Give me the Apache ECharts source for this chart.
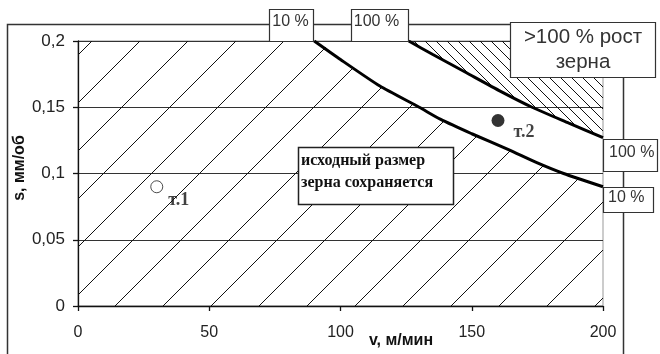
<!DOCTYPE html>
<html><head><meta charset="utf-8">
<script src="https://cdn.jsdelivr.net/npm/echarts@6/dist/echarts.min.js"></script>
<style>html,body{margin:0;padding:0;background:#fff}#chart{width:660px;height:354px}</style>
</head><body><div id="chart"></div>
<script>
// Boundary where grain growth reaches 10 %: [v, m/min ; s, mm/rev]
const curve10 = [[90,0.2],[100,0.186],[115,0.166],[130,0.15],[138,0.141],[150,0.13],[164,0.118],[175,0.108],[185,0.1],[200,0.09]];
// Boundary where grain growth reaches 100 %
const curve100 = [[126,0.2],[135,0.19],[148,0.176],[161,0.162],[173,0.15],[187,0.138],[200,0.127]];
// Test points
const point1 = [30, 0.09];
const point2 = [160, 0.14];
// Axis ticks
const xTicks = [0, 50, 100, 150, 200];
const yTicks = [0, 0.05, 0.1, 0.15, 0.2];

// Tile with diagonal hatch lines; '/' lines satisfy x+y=phase (mod size), '\' lines x-y=phase
function hatch(size, dir, phase, width) {
  const c = document.createElement('canvas');
  c.width = size; c.height = size;
  const g = c.getContext('2d');
  g.strokeStyle = '#111';
  g.lineWidth = width;
  g.beginPath();
  for (let k = -2; k <= 2; k++) {
    const o = phase + k * size;
    if (dir === '/') { g.moveTo(o + 1, -1); g.lineTo(o - size - 1, size + 1); }
    else { g.moveTo(o - 1, -1); g.lineTo(o + size + 1, size + 1); }
  }
  g.stroke();
  return c;
}
const slash = hatch(48, '/', 37, 1);
const backslash = hatch(11, '\\', 10, 1);

const chart = echarts.init(document.getElementById('chart'), null, {renderer: 'canvas'});
const sans = 'Liberation Sans, Arial, sans-serif';
const serif = 'Liberation Serif, Times New Roman, serif';

const option = {
  animation: false,
  backgroundColor: '#fff',
  grid: {left: 78, right: 57, top: 41, bottom: 48, show: true, borderColor: '#999', borderWidth: 1, backgroundColor: '#fff'},
  xAxis: {
    type: 'value', min: xTicks[0], max: xTicks[xTicks.length - 1], interval: xTicks[1] - xTicks[0],
    axisLine: {show: true, lineStyle: {color: '#111', width: 1.3}},
    axisTick: {show: true, length: 5, lineStyle: {color: '#111', width: 1.3}},
    axisLabel: {fontFamily: sans, fontSize: 16, color: '#222', margin: 19},
    splitLine: {show: false}
  },
  yAxis: {
    type: 'value', min: yTicks[0], max: yTicks[yTicks.length - 1], interval: yTicks[1] - yTicks[0],
    axisLine: {show: true, lineStyle: {color: '#111', width: 1.3}},
    axisTick: {show: true, length: 5, lineStyle: {color: '#111', width: 1.3}},
    axisLabel: {fontFamily: sans, fontSize: 17, color: '#222', margin: 13,
      formatter: v => String(+v.toFixed(2)).replace('.', ',')},
    splitLine: {show: true, lineStyle: {color: '#333', width: 1.2}}
  },
  series: [
    { // hatched zone below the 10 % boundary
      type: 'line', data: [[xTicks[0], yTicks[yTicks.length - 1]]].concat(curve10),
      showSymbol: false, silent: true, z: 1, smooth: 0.2,
      lineStyle: {width: 0, opacity: 0},
      areaStyle: {color: {image: slash, repeat: 'repeat'}, origin: 'start', opacity: 1}
    },
    { // >100 % zone above the 100 % boundary
      type: 'line', data: curve100, showSymbol: false, silent: true, z: 3, smooth: 0.2,
      lineStyle: {color: '#000', width: 3},
      areaStyle: {color: {image: backslash, repeat: 'repeat'}, origin: 'end', opacity: 1}
    },
    {
      type: 'line', data: curve10, showSymbol: false, silent: true, z: 3, smooth: 0.2,
      lineStyle: {color: '#000', width: 3}
    },
    {
      type: 'scatter', z: 5, symbolSize: 12,
      data: [
        {value: point1, itemStyle: {color: '#fff', borderColor: '#222', borderWidth: 1},
         label: {show: true, formatter: 'т.1', position: 'right', offset: [0, 14]}},
        {value: point2, symbolSize: 13, itemStyle: {color: '#000'},
         label: {show: true, formatter: 'т.2', position: 'right', offset: [4, 12]}}
      ],
      label: {fontFamily: serif, fontWeight: 'bold', fontSize: 18, color: '#111'}
    }
  ]
};
chart.setOption(option);

// Annotation boxes anchored at the ends of the boundary curves
const px = p => chart.convertToPixel({gridIndex: 0}, p);
const s10 = px(curve10[0]), e10 = px(curve10[curve10.length - 1]);
const s100 = px(curve100[0]), e100 = px(curve100[curve100.length - 1]);

function box(x, y, w, h, stroke, lw) {
  return {type: 'rect', z: 100, shape: {x: Math.round(x) + 0.5, y: Math.round(y) + 0.5, width: w, height: h},
    style: {fill: '#fff', stroke: stroke, lineWidth: lw}};
}
function label(x, y, text, opts) {
  return {type: 'text', z: 101, x: x, y: y,
    style: Object.assign({text: text, fill: '#333', fontFamily: sans, fontSize: 16,
      align: 'left', verticalAlign: 'middle'}, opts || {})};
}

chart.setOption({
  graphic: [
    // outer chart frame
    {type: 'rect', z: 0, shape: {x: 7.5, y: 24.5, width: 616, height: 360},
     style: {fill: null, stroke: '#333', lineWidth: 1.5}},
    box(s10[0] - 45, 9, 44, s10[1] - 9, '#333', 1.2),
    label(s10[0] - 42, 22, '10 %'),
    box(s100[0] - 58, 9, 57, s100[1] - 9, '#333', 1.2),
    label(s100[0] - 55, 22, '100 %'),
    box(e100[0], e100[1] + 1, 54, 32, '#333', 1.2),
    label(e100[0] + 6, e100[1] + 15, '100 %'),
    box(e10[0], e10[1], 50, 25, '#333', 1.2),
    label(e10[0] + 5, e10[1] + 11, '10 %'),
    box(510, 22, 145, 55, '#333', 1.2),
    label(583, 37, '>100 % рост', {fontSize: 20.5, align: 'center'}),
    label(583, 62, 'зерна', {fontSize: 20.5, align: 'center'}),
    box(298, 147, 155, 57, '#222', 1.5),
    label(301, 160.5, 'исходный размер', {fill: '#111', fontFamily: serif, fontWeight: 'bold', fontSize: 16}),
    label(301, 183, 'зерна сохраняется', {fill: '#111', fontFamily: serif, fontWeight: 'bold', fontSize: 16}),
    // axis titles
    label(401, 341, 'v, м/мин', {fill: '#111', fontWeight: 'bold', fontSize: 16, align: 'center'}),
    {type: 'text', z: 101, x: 20, y: 168, rotation: Math.PI / 2,
     style: {text: 's, мм/об', fill: '#111', fontFamily: sans, fontWeight: 'bold', fontSize: 16,
       align: 'center', verticalAlign: 'middle'}}
  ]
});
</script>
</body></html>
